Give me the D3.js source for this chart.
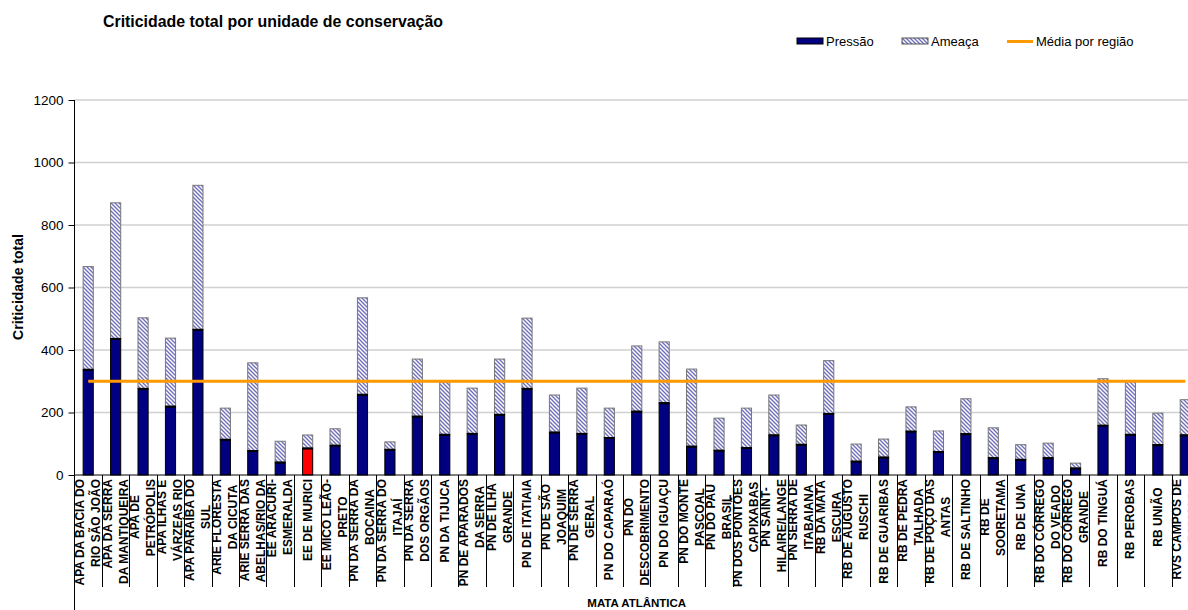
<!DOCTYPE html>
<html>
<head>
<meta charset="utf-8">
<script src="https://cdn.jsdelivr.net/npm/d3@7"></script>
<style>
  html, body { margin: 0; padding: 0; background: #fff; }
  svg { display: block; font-family: Arial, "Liberation Sans", sans-serif; }
</style>
</head>
<body>
<svg id="chart" width="1188" height="610"></svg>
<script>
// Unidades de conservação (quebra de linha marcada com "\n")
const categories = [
  "APA DA BACIA DO\nRIO SÃO JOÃO", "APA DA SERRA\nDA MANTIQUEIRA", "APA DE\nPETRÓPOLIS",
  "APA ILHAS E\nVÁRZEAS RIO", "APA PARAÍBA DO\nSUL", "ARIE FLORESTA\nDA CICUTA",
  "ARIE SERRA DAS\nABELHAS/RIO DA", "EE ARACURI-\nESMERALDA", "EE DE MURICI",
  "EE MICO LEÃO-\nPRETO", "PN DA SERRA DA\nBOCAINA", "PN DA SERRA DO\nITAJAÍ",
  "PN DA SERRA\nDOS ORGÃOS", "PN DA TIJUCA", "PN DE APARADOS\nDA SERRA",
  "PN DE ILHA\nGRANDE", "PN DE ITATIAIA", "PN DE SÃO\nJOAQUIM",
  "PN DE SERRA\nGERAL", "PN DO CAPARAÓ", "PN DO\nDESCOBRIMENTO",
  "PN DO IGUAÇU", "PN DO MONTE\nPASCOAL", "PN DO PAU\nBRASIL",
  "PN DOS PONTÕES\nCAPIXABAS", "PN SAINT-\nHILAIRE/LANGE", "PN SERRA DE\nITABAIANA",
  "RB DA MATA\nESCURA", "RB DE AUGUSTO\nRUSCHI", "RB DE GUARIBAS",
  "RB DE PEDRA\nTALHADA", "RB DE POÇO DAS\nANTAS", "RB DE SALTINHO",
  "RB DE\nSOORETAMA", "RB DE UNA", "RB DO CÓRREGO\nDO VEADO",
  "RB DO CÓRREGO\nGRANDE", "RB DO TINGUÁ", "RB PEROBAS",
  "RB UNIÃO", "RVS CAMPOS DE\nPALMAS"
];

const pressao = [
  338, 437, 277, 220, 466, 114, 78, 41, 86, 95,
  258, 82, 188, 130, 133, 194, 277, 137, 133, 120,
  204, 231, 92, 79, 88, 128, 98, 197, 44, 57,
  140, 75, 132, 55, 50, 55, 22, 159, 130, 97, 128
];

const ameaca = [
  329, 434, 226, 218, 461, 100, 281, 67, 42, 53,
  309, 24, 183, 167, 145, 177, 225, 119, 145, 94,
  209, 195, 247, 103, 126, 128, 62, 169, 55, 58,
  78, 66, 112, 96, 47, 47, 16, 149, 169, 101, 113
];

// Unidade destacada em vermelho na série Pressão
const highlighted = ["EE DE MURICI"];

const mediaRegiao = 300;
const regionName = "MATA ATLÂNTICA";
const yTicks = [0, 200, 400, 600, 800, 1000, 1200];

const chartTitle = "Criticidade total por unidade de conservação";
const yTitle = "Criticidade total";
const legendItems = ["Pressão", "Ameaça", "Média por região"];

const C = {
  navy: "#000080",
  red: "#ff0000",
  orange: "#ff9900",
  grid: "#d0d0d0",
  hatchLine: "#7070bc"
};

const svg = d3.select("#chart");
const plot = { left: 74.5, right: 1199, top: 100, bottom: 475 };

// hachura diagonal da série Ameaça
const defs = svg.append("defs");
const pat = defs.append("pattern")
  .attr("id", "hatch")
  .attr("patternUnits", "userSpaceOnUse")
  .attr("width", 4).attr("height", 4);
pat.append("rect").attr("width", 4).attr("height", 4).attr("fill", "#ffffff");
pat.append("path")
  .attr("d", "M-1,-1 L5,5 M-1,3 L1,5 M3,-1 L5,1")
  .attr("stroke", C.hatchLine).attr("stroke-width", 1.4);

const x = d3.scaleBand()
  .domain(categories)
  .range([plot.left, plot.right])
  .padding(0);

const y = d3.scaleLinear()
  .domain([0, 1200])
  .range([plot.bottom, plot.top]);

const barW = x.bandwidth() * 0.37;
const cx = d => x(d) + x.bandwidth() / 2;

// título
svg.append("text")
  .attr("x", 103).attr("y", 27)
  .attr("font-size", 15.9).attr("font-weight", "bold")
  .text(chartTitle);

// linhas de grade
svg.append("g")
  .selectAll("line")
  .data(yTicks.filter(t => t > 0))
  .join("line")
  .attr("x1", plot.left).attr("x2", 1188)
  .attr("y1", d => y(d)).attr("y2", d => y(d))
  .attr("stroke", C.grid).attr("stroke-width", 1.5);

// barras empilhadas
const rows = categories.map((c, i) => ({ c, p: pressao[i], a: ameaca[i] }));
const bars = svg.append("g");

bars.selectAll("rect.amea")
  .data(rows)
  .join("rect")
  .attr("class", "amea")
  .attr("x", d => cx(d.c) - barW / 2)
  .attr("width", barW)
  .attr("y", d => y(d.p + d.a))
  .attr("height", d => y(d.p) - y(d.p + d.a))
  .attr("fill", "url(#hatch)")
  .attr("stroke", "#777777").attr("stroke-width", 1);

bars.selectAll("rect.pres")
  .data(rows)
  .join("rect")
  .attr("class", "pres")
  .attr("x", d => cx(d.c) - barW / 2)
  .attr("width", barW)
  .attr("y", d => y(d.p))
  .attr("height", d => y(0) - y(d.p))
  .attr("fill", d => highlighted.includes(d.c) ? C.red : C.navy)
  .attr("stroke", "#000").attr("stroke-width", 1);

// borda superior mais grossa da série Pressão
bars.selectAll("line.ptop")
  .data(rows)
  .join("line")
  .attr("class", "ptop")
  .attr("x1", d => cx(d.c) - barW / 2).attr("x2", d => cx(d.c) + barW / 2)
  .attr("y1", d => y(d.p) + 0.5).attr("y2", d => y(d.p) + 0.5)
  .attr("stroke", "#000").attr("stroke-width", 2);

// linha da média por região
svg.append("line")
  .attr("x1", cx(categories[0]))
  .attr("x2", cx(categories[categories.length - 1]))
  .attr("y1", y(mediaRegiao)).attr("y2", y(mediaRegiao))
  .attr("stroke", C.orange).attr("stroke-width", 3);

// eixo Y
const yAxis = svg.append("g")
  .attr("transform", `translate(${plot.left},0)`)
  .call(d3.axisLeft(y).tickValues(yTicks).tickFormat(d3.format("d"))
    .tickSize(6).tickPadding(5).tickSizeOuter(0));
yAxis.select(".domain").remove();
yAxis.selectAll("text").attr("font-size", 13.5).attr("font-family", "Arial, 'Liberation Sans', sans-serif").attr("fill", "#000");
yAxis.selectAll("line").attr("stroke", "#000");

svg.append("line")
  .attr("x1", plot.left).attr("x2", plot.left)
  .attr("y1", plot.top).attr("y2", 610)
  .attr("stroke", "#000").attr("stroke-width", 1);

// eixo X
svg.append("line")
  .attr("x1", plot.left).attr("x2", 1188)
  .attr("y1", plot.bottom).attr("y2", plot.bottom)
  .attr("stroke", "#000").attr("stroke-width", 1);

svg.append("g")
  .selectAll("line")
  .data(categories.slice(1))
  .join("line")
  .attr("x1", d => Math.round(x(d)) + 0.5).attr("x2", d => Math.round(x(d)) + 0.5)
  .attr("y1", plot.bottom).attr("y2", 587)
  .attr("stroke", "#000").attr("stroke-width", 1);

// rótulos das categorias (rotacionados, até duas linhas)
const labelTop = 479;
const labelMid = 517;
const lg = svg.append("g")
  .attr("font-size", 12).attr("font-weight", "bold");

categories.forEach(c => {
  const lines = c.split("\n");
  const n = lines.length;
  lines.forEach((ln, k) => {
    const dx = n === 1 ? 0 : (k === 0 ? -8 : 8);
    const t = lg.append("text")
      .attr("text-anchor", "middle")
      .attr("dominant-baseline", "central")
      .text(ln);
    const len = t.node().getComputedTextLength();
    const yc = Math.max(labelMid, labelTop + len / 2);
    t.attr("transform", `translate(${cx(c) + dx},${yc}) rotate(-90)`);
  });
});

svg.append("text")
  .attr("x", (plot.left + plot.right) / 2).attr("y", 607)
  .attr("text-anchor", "middle")
  .attr("font-size", 11.5).attr("font-weight", "bold")
  .text(regionName);

// título do eixo Y
svg.append("text")
  .attr("transform", `translate(23,287) rotate(-90)`)
  .attr("text-anchor", "middle")
  .attr("font-size", 14).attr("font-weight", "bold")
  .text(yTitle);

// legenda
const leg = svg.append("g").attr("font-size", 13);
const legX = [797, 902, 1007];
leg.append("rect").attr("x", legX[0]).attr("y", 38).attr("width", 26).attr("height", 6)
  .attr("fill", C.navy).attr("stroke", "#000").attr("stroke-width", 1);
leg.append("rect").attr("x", legX[1]).attr("y", 38).attr("width", 26).attr("height", 6)
  .attr("fill", "url(#hatch)").attr("stroke", "#555").attr("stroke-width", 1);
leg.append("line").attr("x1", legX[2]).attr("x2", legX[2] + 26).attr("y1", 41.5).attr("y2", 41.5)
  .attr("stroke", C.orange).attr("stroke-width", 3);
legendItems.forEach((s, i) => {
  leg.append("text").attr("x", legX[i] + 29).attr("y", 46).text(s);
});
</script>
</body>
</html>
